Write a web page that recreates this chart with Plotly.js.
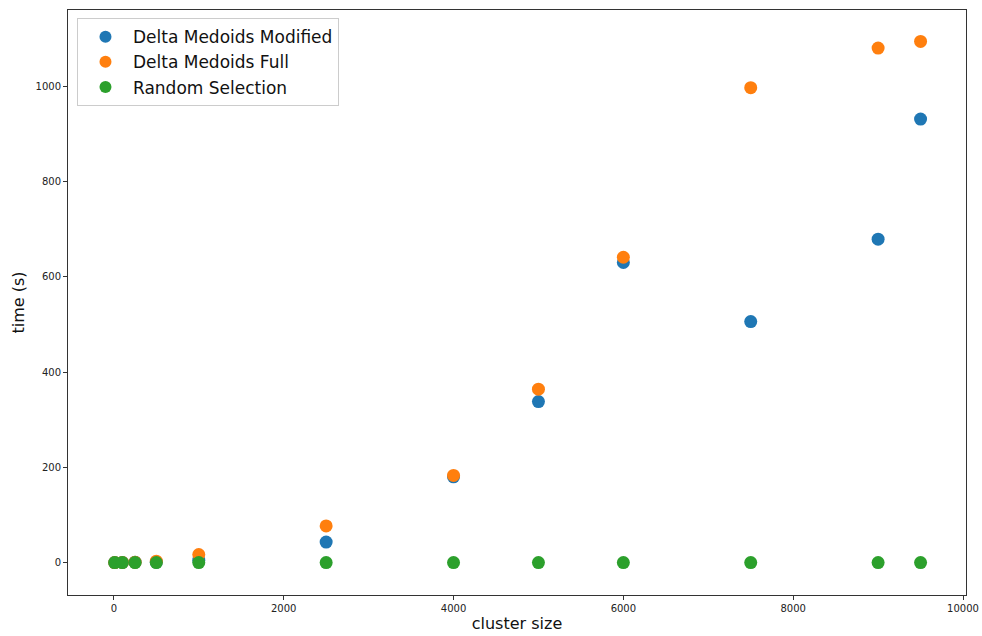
<!DOCTYPE html>
<html><head><meta charset="utf-8">
<script src="https://cdn.plot.ly/plotly-3.0.1.min.js"></script>
<style>html,body{margin:0;padding:0;background:#fff}#c{width:982px;height:636px}</style>
</head><body><div id="c"></div>
<script>
const clusterSize = [10, 100, 250, 500, 1000, 2500, 4000, 5000, 6000, 7500, 9000, 9500];
const deltaModified = [0.1, 0.3, 0.8, 1, 5, 43, 180, 338, 630, 506, 679, 931];
const deltaFull = [0.1, 0.4, 1, 3, 17, 77, 183, 364, 641, 997, 1080, 1094];
const randomSel = [0, 0, 0, 0, 0, 0, 0, 0, 0, 0, 0, 0];
const names = ['Delta Medoids Modified', 'Delta Medoids Full', 'Random Selection'];
const colors = ['#1f77b4', '#ff7f0e', '#2ca02c'];
const xTicks = [0, 2000, 4000, 6000, 8000, 10000];
const yTicks = [0, 200, 400, 600, 800, 1000];

const series = [deltaModified, deltaFull, randomSel];
const traces = series.map((ys, i) => ({
  x: clusterSize, y: ys, name: names[i], type: 'scatter', mode: 'markers',
  marker: {color: colors[i], size: 13, line: {width: 0}}
}));

const axisCommon = {
  showline: true, mirror: true, linecolor: '#333', linewidth: 1,
  ticks: 'outside', ticklen: 4, tickcolor: '#333', showgrid: false, zeroline: false,
  tickfont: {family: 'DejaVu Sans', size: 10, color: '#222'}
};
const layout = {
  width: 982, height: 636,
  margin: {l: 68, r: 16, t: 10, b: 41},
  paper_bgcolor: '#fff', plot_bgcolor: '#fff',
  showlegend: true,
  legend: {x: 0.01, y: 0.986, xanchor: 'left', yanchor: 'top', bgcolor: 'rgba(255,255,255,0.9)',
           bordercolor: '#ccc', borderwidth: 1, itemwidth: 45,
           font: {family: 'DejaVu Sans', size: 17, color: '#111'}, tracegroupgap: 0, itemsizing: 'constant'},
  xaxis: Object.assign({}, axisCommon, {range: [-540, 10035], tickvals: xTicks, ticktext: xTicks.map(String),
    title: {text: 'cluster size', font: {family: 'DejaVu Sans', size: 16, color: '#111'}, standoff: 4}}),
  yaxis: Object.assign({}, axisCommon, {range: [-68, 1160], tickvals: yTicks, ticktext: yTicks.map(String),
    title: {text: 'time (s)', font: {family: 'DejaVu Sans', size: 16, color: '#111'}, standoff: 6}})
};
Plotly.newPlot('c', traces, layout, {displayModeBar: false, staticPlot: true});
</script></body></html>
